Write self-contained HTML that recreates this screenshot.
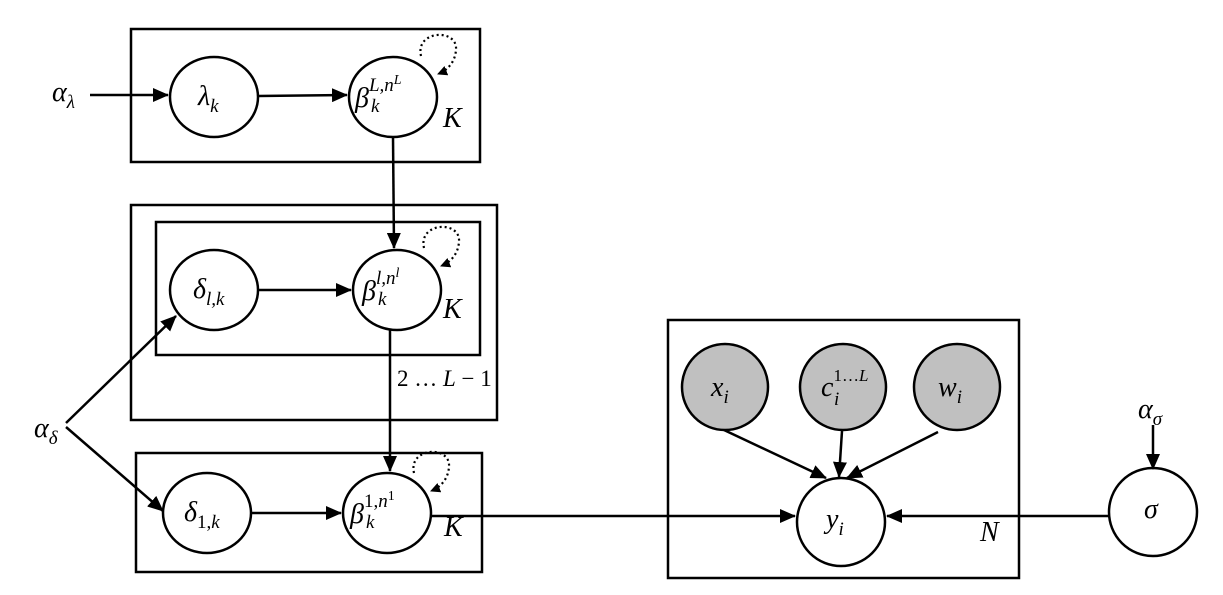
<!DOCTYPE html>
<html><head><meta charset="utf-8"><style>
html,body{margin:0;padding:0;background:#fff}
svg{display:block}
text{font-family:"Liberation Serif","DejaVu Serif",serif;font-style:italic;fill:#000}
.n{font-style:normal}
</style></head><body>
<svg width="1223" height="595" viewBox="0 0 1223 595" xmlns="http://www.w3.org/2000/svg">
<defs>
<marker id="a" markerWidth="16" markerHeight="14" refX="15" refY="7" orient="auto" markerUnits="userSpaceOnUse"><path d="M0,0 L16,7 L0,14 z" fill="#000"/></marker>
<marker id="s" markerWidth="10" markerHeight="10" refX="9" refY="5" orient="auto" markerUnits="userSpaceOnUse"><path d="M0,0 L10,5 L0,10 z" fill="#000"/></marker>
</defs>
<g fill="none" stroke="#000" stroke-width="2.5">
<rect x="131" y="29" width="349" height="133"/>
<rect x="131" y="205" width="366" height="215"/>
<rect x="156" y="222" width="324" height="133"/>
<rect x="136" y="453" width="346" height="119"/>
<rect x="668" y="320" width="351" height="258"/>
</g>
<g stroke="#000" stroke-width="2.5" fill="#fff">
<ellipse cx="214" cy="97" rx="44" ry="40"/>
<ellipse cx="393" cy="97" rx="44" ry="40"/>
<ellipse cx="214" cy="290" rx="44" ry="40"/>
<ellipse cx="397" cy="290" rx="44" ry="40"/>
<ellipse cx="207" cy="513" rx="44" ry="40"/>
<ellipse cx="387" cy="513" rx="44" ry="40"/>
<ellipse cx="841" cy="522" rx="44" ry="44"/>
<ellipse cx="1153" cy="512" rx="44" ry="44"/>
<g fill="#c0c0c0">
<ellipse cx="725" cy="387" rx="43" ry="43"/>
<ellipse cx="843" cy="387" rx="43" ry="43"/>
<ellipse cx="957" cy="387" rx="43" ry="43"/>
</g>
</g>
<g stroke="#000" stroke-width="2.5" fill="none">
<line x1="90" y1="95" x2="168" y2="95" marker-end="url(#a)"/>
<line x1="258" y1="96" x2="347" y2="95" marker-end="url(#a)"/>
<line x1="393" y1="137" x2="394" y2="248" marker-end="url(#a)"/>
<line x1="258" y1="290" x2="351" y2="290" marker-end="url(#a)"/>
<line x1="390" y1="330" x2="390" y2="471" marker-end="url(#a)"/>
<line x1="251" y1="513" x2="341" y2="513" marker-end="url(#a)"/>
<line x1="66" y1="423" x2="176" y2="316" marker-end="url(#a)"/>
<line x1="66" y1="427" x2="163" y2="511" marker-end="url(#a)"/>
<line x1="431" y1="516" x2="795" y2="516" marker-end="url(#a)"/>
<line x1="1109" y1="516" x2="887" y2="516" marker-end="url(#a)"/>
<line x1="1153" y1="425" x2="1153" y2="469" marker-end="url(#a)"/>
<line x1="724" y1="430" x2="826" y2="478" marker-end="url(#a)"/>
<line x1="842" y1="431" x2="839" y2="477" marker-end="url(#a)"/>
<line x1="938" y1="432" x2="847" y2="478" marker-end="url(#a)"/>
</g>
<g stroke="#000" stroke-width="2.2" fill="none" stroke-dasharray="2,3">
<path d="M421,56 C415,30 458,28 456,50 C455,62 448,70 438,74" marker-end="url(#s)"/>
<path d="M424,248 C418,222 461,220 459,242 C458,254 451,262 441,266" marker-end="url(#s)"/>
<path d="M414,473 C408,447 451,445 449,467 C448,479 441,487 431,491" marker-end="url(#s)"/>
</g>
<g font-size="28">
<text x="52" y="101">α<tspan font-size="19" dy="7">λ</tspan></text>
<text x="198" y="105">λ<tspan font-size="19" dy="7">k</tspan></text>
<text x="355" y="107">β<tspan font-size="19" dx="0" dy="-16">L,n</tspan><tspan font-size="14" dy="-7">L</tspan><tspan font-size="19" x="371" dy="28">k</tspan></text>
<text x="443" y="127">K</text>
<text x="193" y="298">δ<tspan font-size="19" dy="7">l,k</tspan></text>
<text x="362" y="300">β<tspan font-size="19" dy="-16">l,n</tspan><tspan font-size="14" dy="-7">l</tspan><tspan font-size="19" x="378" dy="28">k</tspan></text>
<text x="443" y="318">K</text>
<text x="397" y="386" font-size="23" class="n">2 … <tspan style="font-style:italic">L</tspan> − 1</text>
<text x="34" y="437">α<tspan font-size="19" dy="7">δ</tspan></text>
<text x="184" y="521">δ<tspan font-size="19" class="n" dy="7">1,</tspan><tspan font-size="19">k</tspan></text>
<text x="350" y="523">β<tspan font-size="19" class="n" dy="-16">1,</tspan><tspan font-size="19">n</tspan><tspan font-size="14" class="n" dy="-7">1</tspan><tspan font-size="19" x="366" dy="28">k</tspan></text>
<text x="444" y="536">K</text>
<text x="711" y="396">x<tspan font-size="19" dy="7">i</tspan></text>
<text x="821" y="396">c<tspan font-size="17" class="n" dy="-15">1…</tspan><tspan font-size="17">L</tspan><tspan font-size="19" x="834" dy="24">i</tspan></text>
<text x="938" y="396">w<tspan font-size="19" dy="7">i</tspan></text>
<text x="826" y="528">y<tspan font-size="19" dy="7">i</tspan></text>
<text x="980" y="541">N</text>
<text x="1144" y="518">σ</text>
<text x="1138" y="418">α<tspan font-size="19" dy="7">σ</tspan></text>
</g>
</svg>
</body></html>
